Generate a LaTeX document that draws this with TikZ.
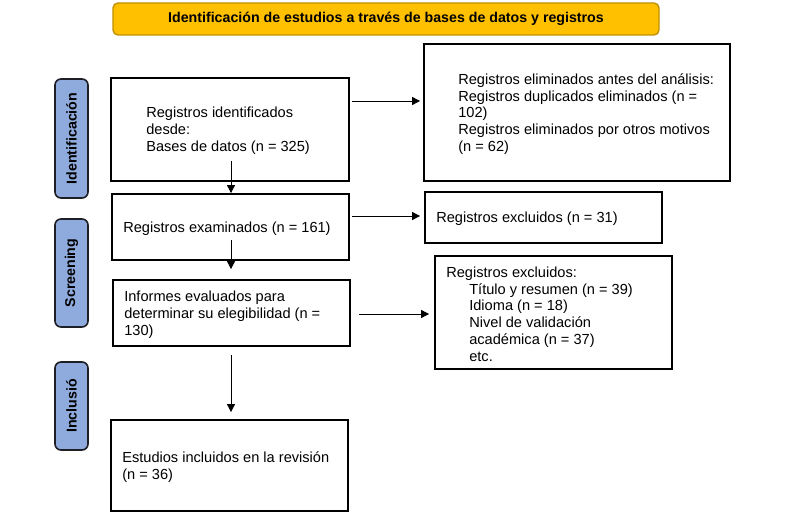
\documentclass[tikz,border=0pt]{standalone}
\usepackage{fontspec}
\setmainfont{Liberation Sans}
\usepackage{tikz}
\usetikzlibrary{positioning,arrows.meta,calc}
\definecolor{titleclr}{RGB}{255,192,0}
\definecolor{titleedge}{RGB}{191,144,0}
\definecolor{stageclr}{RGB}{143,170,220}
\definecolor{stageedge}{RGB}{30,30,38}
\tikzset{
  head/.style={rectangle,draw=titleedge,line width=1.4pt,fill=titleclr,
               rounded corners=5pt,inner sep=0pt,
               font=\fontsize{14.2}{16}\selectfont\bfseries},
  stage/.style={rectangle,draw=stageedge,line width=1.6pt,fill=stageclr,
                rounded corners=6pt,rotate=90,inner sep=0pt,
                font=\fontsize{14.2}{16}\selectfont\bfseries},
  box/.style={rectangle,draw,line width=1.8pt,inner sep=0pt},
  txt/.style={align=left,inner sep=0pt,yshift=-1.5pt,
              font=\fontsize{14.6}{16.8}\selectfont},
  arr/.style={-{Triangle[length=8pt,width=8pt]},line width=0.9pt},
}
\newcommand{\ind}{\hspace*{23pt}}

\begin{document}
\begin{tikzpicture}[x=1pt, y=1pt]
\useasboundingbox (0,0) rectangle (805,517);

% Title bar
\node[head, minimum width=546pt, minimum height=32pt] (title) at (386,498)
  {Identificación de estudios a través de bases de datos y registros};

% Stage labels on the left
\node[stage, minimum width=119pt, minimum height=33pt] (sIdent) at (71.5,378.5) {Identificación};
\node[stage, minimum width=108pt, minimum height=33pt] (sScreen) at (71.5,244) {Screening};
\node[stage, minimum width=88pt,  minimum height=33pt] (sIncl) at (71.5,111) {Inclusió};

% Boxes
\node[box, minimum width=238pt, minimum height=103pt] (ident)  at (230,387.5) {};
\node[box, minimum width=306pt, minimum height=137pt] (elim)   at (577,404.5) {};
\node[box, minimum width=237pt, minimum height=66pt]  (exam)   at (230.5,290) {};
\node[box, minimum width=237pt, minimum height=51pt]  (excl)   at (543.5,299.5) {};
\node[box, minimum width=237pt, minimum height=66pt]  (inform) at (231.5,204) {};
\node[box, minimum width=237pt, minimum height=113pt] (excl2)  at (553.5,204.5) {};
\node[box, minimum width=237pt, minimum height=91pt]  (incl)   at (229.5,51.5) {};

% Box texts
\node[txt, right=36pt of ident.west] (identtxt)
  {Registros identificados\\desde:\\Bases de datos (n = 325)};
\node[txt, right=35pt of elim.west] (elimtxt)
  {Registros eliminados antes del análisis:\\Registros duplicados eliminados (n =\\102)\\
   Registros eliminados por otros motivos\\(n = 62)};
\node[txt, right=12pt of exam.west] (examtxt) {Registros examinados (n = 161)};
\node[txt, right=12pt of excl.west] (excltxt) {Registros excluidos (n = 31)};
\node[txt, right=12pt of inform.west] (informtxt)
  {Informes evaluados para\\determinar su elegibilidad (n =\\130)};
\node[txt, right=12pt of excl2.west] (excl2txt)
  {Registros excluidos:\\\ind Título y resumen (n = 39)\\\ind Idioma (n = 18)\\
   \ind Nivel de validación\\\ind académica (n = 37)\\\ind etc.};
\node[txt, right=12pt of incl.west] (incltxt)
  {Estudios incluidos en la revisión\\(n = 36)};

% Arrows
\draw[arr] ($(ident.east)+(2,28.5)$) -- ($(ident.east -| elim.west)+(-3,28.5)$);
\draw[arr] ($(ident.south)+(1,21)$) -- ($(exam.north)+(0.5,0)$);
\draw[arr] ($(exam.east)+(2,11)$) -- ($(exam.east -| excl.west)+(-4,11)$);
\draw[arr] ($(exam.south)+(0.5,21)$) -- ($(inform.north)+(-0.5,10)$);
\draw[arr] ($(inform.east)+(8,-1)$) -- ($(inform.east -| excl2.west)+(-5,-1)$);
\draw[arr] ($(inform.south)+(-0.5,-8)$) -- ($(incl.north)+(1.5,7)$);
\end{tikzpicture}
\end{document}
